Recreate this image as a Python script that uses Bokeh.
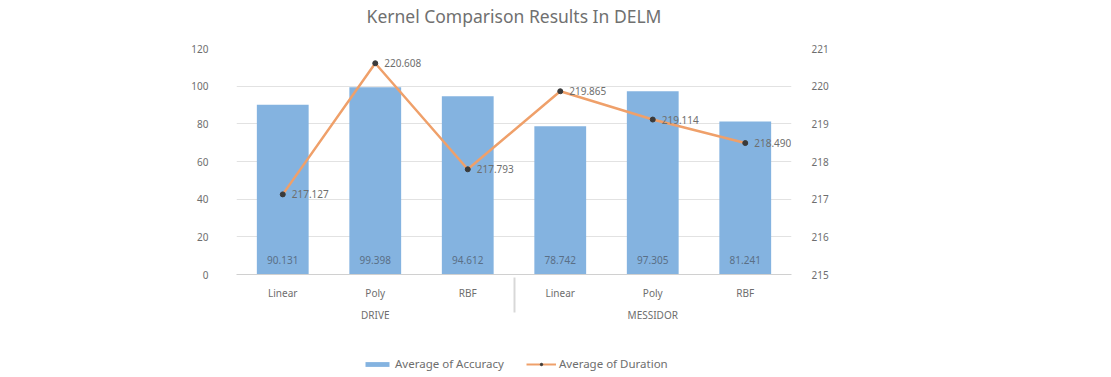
from bokeh.plotting import figure
from bokeh.layouts import column
from bokeh.models import (ColumnDataSource, FactorRange, Range1d, LinearAxis,
                          Legend, LegendItem, FixedTicker)
from bokeh.core.properties import value
from bokeh.embed import file_html
from bokeh.resources import INLINE

title_text = "Kernel Comparison Results In DELM"
groups = ["DRIVE", "DRIVE", "DRIVE", "MESSIDOR", "MESSIDOR", "MESSIDOR"]
kernels = ["Linear", "Poly", "RBF", "Linear", "Poly", "RBF"]
accuracy = [90.131, 99.398, 94.612, 78.742, 97.305, 81.241]
duration = [217.127, 220.608, 217.793, 219.865, 219.114, 218.490]
left_ticks = [0, 20, 40, 60, 80, 100, 120]
right_ticks = [215, 216, 217, 218, 219, 220, 221]
series_names = ["Average of Accuracy", "Average of Duration"]

FONT = "Noto Sans"
GRAY = "#6e6e6e"
BAR = "#84b3e0"
LINE = "#efa06a"
MARK = "#3a3a3a"
FS = "10px"

factors = list(zip(groups, kernels))
src = ColumnDataSource(dict(
    x=factors,
    acc=accuracy,
    dur=duration,
    acc_lbl=[f"{v:.3f}" for v in accuracy],
    dur_lbl=[f"{v:.3f}" for v in duration],
))


def strip(h):
    f = figure(width=1111, height=h, x_range=Range1d(0, 1), y_range=Range1d(0, 1),
               output_backend="svg", toolbar_location=None,
               min_border=0, outline_line_color=None)
    f.axis.visible = False
    f.grid.visible = False
    return f


# title strip
tt = strip(30)
tt.text(x=[0.5], y=[0.5], text=[title_text], text_align="center",
        text_baseline="middle", text_font=value(FONT), text_font_size="17.5px",
        text_color="#707070")

xr = FactorRange(*factors, factor_padding=0, group_padding=0, range_padding=0)
p = figure(width=1111, height=315, x_range=xr, y_range=Range1d(0, 120),
           output_backend="svg", toolbar_location=None,
           min_border_left=236, min_border_right=320,
           min_border_top=18, min_border_bottom=71)
p.extra_y_ranges = {"dur": Range1d(215, 221)}

p.outline_line_color = None
p.xgrid.grid_line_color = None
p.ygrid.grid_line_color = "#e2e2e2"
p.ygrid.ticker = FixedTicker(ticks=left_ticks)

# left axis
ya = p.yaxis[0]
ya.ticker = FixedTicker(ticks=left_ticks)
ya.axis_line_color = None
ya.major_tick_line_color = None
ya.minor_tick_line_color = None
ya.major_label_standoff = 22
ya.major_label_text_font = FONT
ya.major_label_text_font_size = FS
ya.major_label_text_color = GRAY

# right axis
ra = LinearAxis(y_range_name="dur", ticker=FixedTicker(ticks=right_ticks))
ra.axis_line_color = None
ra.major_tick_line_color = None
ra.minor_tick_line_color = None
ra.major_label_standoff = 14
ra.major_label_text_font = FONT
ra.major_label_text_font_size = FS
ra.major_label_text_color = GRAY
p.add_layout(ra, "right")

# category axis
xa = p.xaxis[0]
xa.axis_line_color = "#d0d0d0"
xa.major_tick_line_color = None
xa.major_label_text_font = FONT
xa.major_label_text_font_size = FS
xa.major_label_text_color = GRAY
xa.major_label_standoff = 5
xa.group_text_font = FONT
xa.group_text_font_size = FS
xa.group_text_color = GRAY
xa.group_text_font_style = "normal"
xa.separator_line_color = "#d8d8d8"

p.vbar(x="x", top="acc", width=0.56, source=src, fill_color=BAR,
       line_color=None)
p.text(x="x", y=0, text="acc_lbl", source=src, text_align="center",
       text_baseline="middle", y_offset=-15, text_font=value(FONT),
       text_font_size=FS, text_color="#5a6f86")

p.line(x="x", y="dur", source=src, y_range_name="dur", line_color=LINE,
       line_width=2.5)
p.scatter(x="x", y="dur", source=src, y_range_name="dur", size=5,
          fill_color=MARK, line_color=MARK)
p.text(x="x", y="dur", text="dur_lbl", source=src, y_range_name="dur",
       text_align="left", text_baseline="middle", x_offset=9,
       text_font=value(FONT), text_font_size=FS, text_color=GRAY)

# legend strip (swatch-only helper glyphs, no visible data)
lg = strip(32)
nan = float("nan")
helper = ColumnDataSource(dict(x=[nan], y=[nan]))
r_bar = lg.vbar(x="x", top="y", width=0.1, source=helper, fill_color=BAR,
                line_color=None)
r_ln = lg.line(x="x", y="y", source=helper, line_color=LINE, line_width=2)
r_mk = lg.scatter(x="x", y="y", source=helper, size=5, fill_color=MARK,
                  line_color=MARK)
legend = Legend(items=[LegendItem(label=series_names[0], renderers=[r_bar]),
                       LegendItem(label=series_names[1], renderers=[r_ln, r_mk])],
                orientation="horizontal", location=(126, 6),
                border_line_color=None, background_fill_alpha=0,
                label_text_font=FONT, label_text_font_size="11.5px",
                label_text_color=GRAY, glyph_width=30, glyph_height=6,
                spacing=22, padding=0, margin=0, label_standoff=3,
                label_height=10)
lg.add_layout(legend, "center")

layout = column(tt, p, lg, spacing=0)
open("out.html", "w").write(file_html(layout, INLINE))
